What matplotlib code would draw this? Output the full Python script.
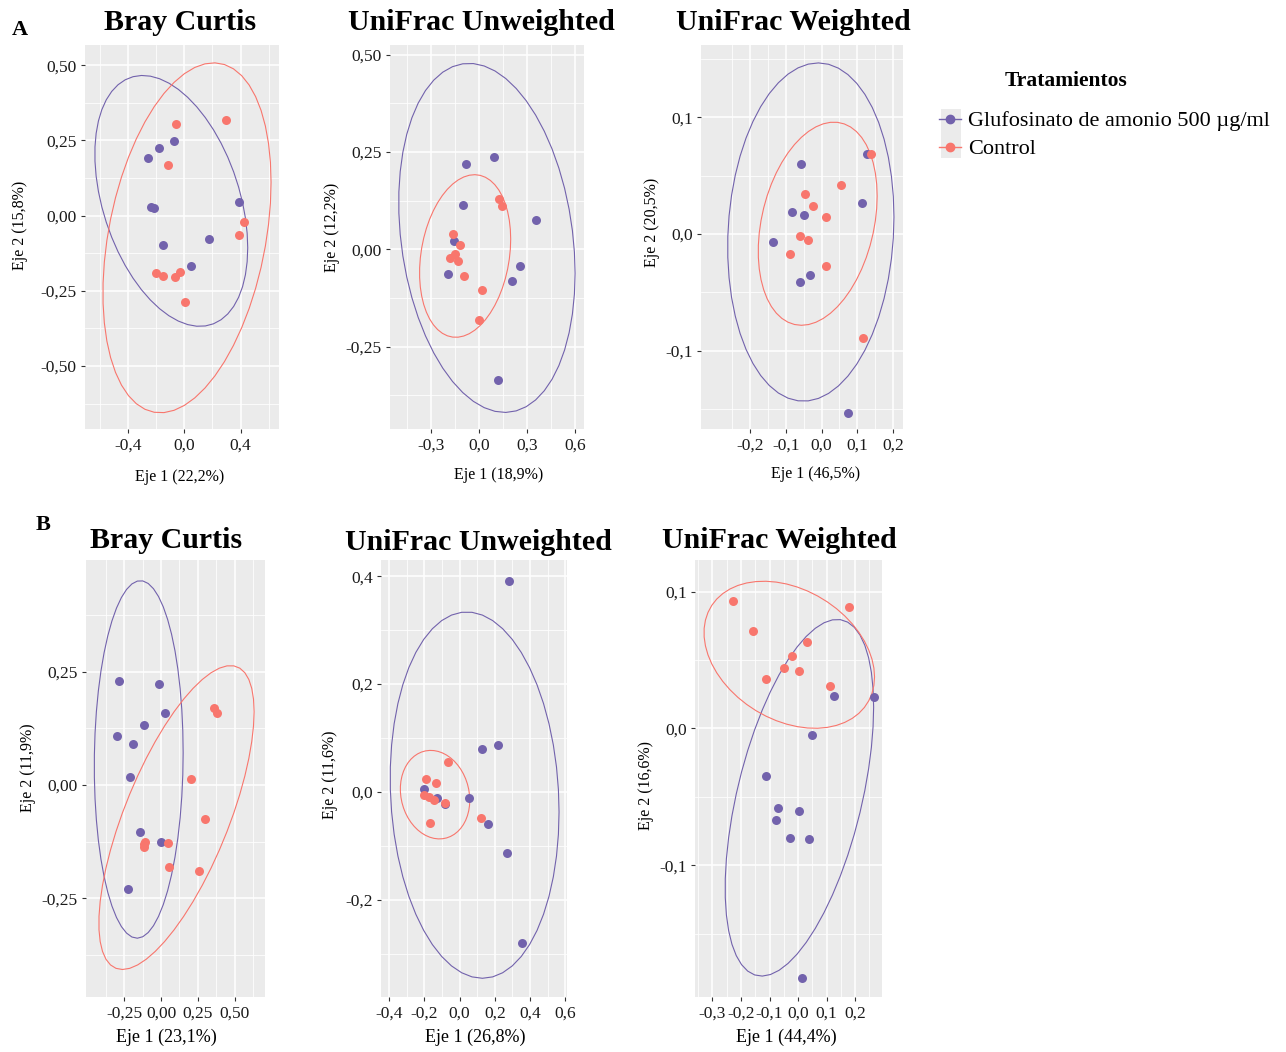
import numpy as np
import matplotlib
matplotlib.use("Agg")
import matplotlib.pyplot as plt
from matplotlib.lines import Line2D
from matplotlib.patches import Polygon, Rectangle

plt.rcParams['font.family'] = ['Liberation Serif', 'DejaVu Serif']

# Colours of the two treatments.
GLU_COLOR = "#7262AC"
CTL_COLOR = "#F8766D"

# ---------------- Data (PCoA coordinates) ----------------
# A - Bray Curtis
a1_glu_x = [-0.256, -0.182, -0.075, -0.237, -0.216, -0.153, 0.175, 0.050, 0.386]
a1_glu_y = [0.191, 0.226, 0.249, 0.030, 0.026, -0.098, -0.077, -0.167, 0.045]
a1_ctl_x = [-0.057, 0.298, -0.116, 0.422, 0.386, -0.201, -0.153, -0.068, -0.030, 0.007]
a1_ctl_y = [0.305, 0.318, 0.167, -0.020, -0.064, -0.189, -0.200, -0.205, -0.188, -0.286]
# A - UniFrac Unweighted
a2_glu_x = [-0.081, 0.094, -0.098, 0.358, -0.154, -0.190, 0.260, 0.208, 0.121]
a2_glu_y = [0.220, 0.236, 0.114, 0.075, 0.021, -0.064, -0.043, -0.082, -0.335]
a2_ctl_x = [0.127, 0.146, -0.163, -0.121, -0.148, -0.179, -0.131, -0.094, 0.017, -0.002]
a2_ctl_y = [0.128, 0.110, 0.038, 0.010, -0.013, -0.022, -0.029, -0.069, -0.106, -0.181]
# A - UniFrac Weighted
a3_glu_x = [-0.057, 0.127, 0.114, -0.083, -0.049, -0.135, -0.032, -0.060, 0.074]
a3_glu_y = [0.060, 0.069, 0.027, 0.019, 0.016, -0.007, -0.035, -0.041, -0.153]
a3_ctl_x = [0.138, 0.053, -0.047, -0.025, 0.012, -0.060, -0.038, -0.090, 0.012, 0.115]
a3_ctl_y = [0.069, 0.042, 0.034, 0.024, 0.015, -0.002, -0.005, -0.017, -0.027, -0.089]
# B - Bray Curtis
b1_glu_x = [-0.282, -0.016, 0.025, -0.115, -0.297, -0.191, -0.209, -0.142, -0.002, -0.225]
b1_glu_y = [0.229, 0.222, 0.158, 0.133, 0.108, 0.090, 0.018, -0.105, -0.125, -0.230]
b1_ctl_x = [0.358, 0.380, 0.203, 0.297, -0.106, -0.112, -0.115, 0.050, 0.054, 0.259]
b1_ctl_y = [0.170, 0.158, 0.013, -0.075, -0.126, -0.131, -0.137, -0.129, -0.182, -0.191]
# B - UniFrac Unweighted
b2_glu_x = [0.281, 0.216, 0.127, -0.204, -0.129, 0.055, -0.083, 0.163, 0.269, 0.352]
b2_glu_y = [0.391, 0.087, 0.079, 0.005, -0.011, -0.011, -0.023, -0.060, -0.114, -0.280]
b2_ctl_x = [-0.066, -0.193, -0.132, -0.204, -0.174, -0.144, -0.083, -0.170, 0.121]
b2_ctl_y = [0.055, 0.025, 0.016, -0.005, -0.010, -0.015, -0.021, -0.057, -0.048]
# B - UniFrac Weighted
b3_glu_x = [0.126, 0.267, 0.049, -0.113, -0.069, 0.002, -0.078, -0.027, 0.039, 0.015]
b3_glu_y = [0.024, 0.023, -0.005, -0.035, -0.058, -0.060, -0.067, -0.080, -0.081, -0.182]
b3_ctl_x = [-0.228, 0.179, -0.159, 0.032, -0.020, -0.051, 0.004, -0.113, 0.113]
b3_ctl_y = [0.093, 0.089, 0.071, 0.063, 0.053, 0.044, 0.042, 0.036, 0.031]

titles = ["Bray Curtis", "UniFrac Unweighted", "UniFrac Weighted"]
a_xlabels = ["Eje 1 (22,2%)", "Eje 1 (18,9%)", "Eje 1 (46,5%)"]
a_ylabels = ["Eje 2 (15,8%)", "Eje 2 (12,2%)", "Eje 2 (20,5%)"]
b_xlabels = ["Eje 1 (23,1%)", "Eje 1 (26,8%)", "Eje 1 (44,4%)"]
b_ylabels = ["Eje 2 (11,9%)", "Eje 2 (11,6%)", "Eje 2 (16,6%)"]
legend_labels = ["Glufosinato de amonio 500 \u00b5g/ml", "Control"]

# Tick values and labels for each panel.
a1_xticks = [-0.4, 0.0, 0.4]
a1_xticklabels = ["-0,4", "0,0", "0,4"]
a1_yticks = [-0.5, -0.25, 0.0, 0.25, 0.5]
a1_yticklabels = ["-0,50", "-0,25", "0,00", "0,25", "0,50"]
a2_xticks = [-0.3, 0.0, 0.3, 0.6]
a2_xticklabels = ["-0,3", "0,0", "0,3", "0,6"]
a2_yticks = [-0.25, 0.0, 0.25, 0.5]
a2_yticklabels = ["-0,25", "0,00", "0,25", "0,50"]
a3_xticks = [-0.2, -0.1, 0.0, 0.1, 0.2]
a3_xticklabels = ["-0,2", "-0,1", "0,0", "0,1", "0,2"]
a3_yticks = [-0.1, 0.0, 0.1]
a3_yticklabels = ["-0,1", "0,0", "0,1"]
b1_xticks = [-0.25, 0.0, 0.25, 0.5]
b1_xticklabels = ["-0,25", "0,00", "0,25", "0,50"]
b1_yticks = [-0.25, 0.0, 0.25]
b1_yticklabels = ["-0,25", "0,00", "0,25"]
b2_xticks = [-0.4, -0.2, 0.0, 0.2, 0.4, 0.6]
b2_xticklabels = ["-0,4", "-0,2", "0,0", "0,2", "0,4", "0,6"]
b2_yticks = [-0.2, 0.0, 0.2, 0.4]
b2_yticklabels = ["-0,2", "0,0", "0,2", "0,4"]
b3_xticks = [-0.3, -0.2, -0.1, 0.0, 0.1, 0.2]
b3_xticklabels = ["-0,3", "-0,2", "-0,1", "0,0", "0,1", "0,2"]
b3_yticks = [-0.1, 0.0, 0.1]
b3_yticklabels = ["-0,1", "0,0", "0,1"]

W, H = 1286, 1052


def cov_trob(x, nu=5, maxit=25, tol=0.01):
    """ Robust t covariance (as MASS::cov.trob). """
    n, p = x.shape
    loc = x.mean(axis=0)
    wt = np.ones(n)
    w = np.sqrt(wt)
    for it in range(maxit):
        w0 = w
        X = x - loc
        u, d, vt = np.linalg.svd(np.sqrt(w / w.sum())[:, None] * X, full_matrices=False)
        wX = X @ vt.T @ np.diag(1.0 / d)
        Q = (wX ** 2).sum(axis=1)
        w = (wt * (nu + p)) / (nu + Q)
        loc = (w[:, None] * x).sum(axis=0) / w.sum()
        if np.all(np.abs(w - w0) < tol):
            break
    sw = np.sqrt(w)[:, None] * X
    cov = sw.T @ sw / wt.sum()
    return cov, loc


def t_ellipse(xs, ys, level=0.95, segments=51):
    """ Ellipse like ggplot2 stat_ellipse(type='t'). """
    data = np.column_stack([xs, ys])
    cov, center = cov_trob(data)
    dfn = 2
    dfd = len(xs) - 1
    qf = dfd / 2.0 * ((1 - level) ** (-2.0 / dfd) - 1)
    radius = np.sqrt(dfn * qf)
    chol = np.linalg.cholesky(cov).T
    angles = np.arange(segments) * 2 * np.pi / segments
    unit = np.column_stack([np.cos(angles), np.sin(angles)])
    return center + radius * (unit @ chol)


def minor_ticks(major, lim):
    step = major[1] - major[0]
    vals = [m + step / 2 for m in major] + [major[0] - step / 2]
    return [v for v in vals if lim[0] <= v <= lim[1]]


def draw_panel(fig, box, xlim, ylim, xticks, xticklabels, yticks, yticklabels,
               glu_x, glu_y, ctl_x, ctl_y):
    l, t, r, b = box
    ax = fig.add_axes([l / W, 1 - b / H, (r - l) / W, (b - t) / H])
    ax.set_facecolor("#EBEBEB")
    for sp in ax.spines.values():
        sp.set_visible(False)
    ax.set_xlim(xlim)
    ax.set_ylim(ylim)
    ax.set_xticks(xticks)
    ax.set_xticklabels(xticklabels)
    ax.set_yticks(yticks)
    ax.set_yticklabels(yticklabels)
    ax.set_xticks(minor_ticks(xticks, xlim), minor=True)
    ax.set_yticks(minor_ticks(yticks, ylim), minor=True)
    ax.grid(which='major', color='white', linewidth=1.1)
    ax.grid(which='minor', color='white', linewidth=0.55)
    ax.set_axisbelow(True)
    ax.tick_params(which='major', length=3, width=0.8, color='#333333',
                   labelsize=12.5, labelcolor='#1a1a1a', pad=3)
    ax.tick_params(which='minor', length=0)
    # Ellipses.
    for xs, ys, col in [(glu_x, glu_y, GLU_COLOR), (ctl_x, ctl_y, CTL_COLOR)]:
        ax.add_patch(Polygon(t_ellipse(xs, ys), closed=True, fill=False,
                             edgecolor=col, linewidth=0.8, joinstyle='round'))
    # Points.
    ax.scatter(glu_x, glu_y, s=42, color=GLU_COLOR, linewidths=0, zorder=3)
    ax.scatter(ctl_x, ctl_y, s=42, color=CTL_COLOR, linewidths=0, zorder=3)
    return ax


fig = plt.figure(figsize=(W / 100, H / 100), dpi=100)

panels = [
    ((85, 45, 279, 429), (-0.705, 0.673), (-0.709, 0.567), a1_xticks, a1_xticklabels,
     a1_yticks, a1_yticklabels, a1_glu_x, a1_glu_y, a1_ctl_x, a1_ctl_y),
    ((390, 45, 584, 429), (-0.556, 0.658), (-0.462, 0.525), a2_xticks, a2_xticklabels,
     a2_yticks, a2_yticklabels, a2_glu_x, a2_glu_y, a2_ctl_x, a2_ctl_y),
    ((701, 45, 903, 429), (-0.338, 0.228), (-0.167, 0.162), a3_xticks, a3_xticklabels,
     a3_yticks, a3_yticklabels, a3_glu_x, a3_glu_y, a3_ctl_x, a3_ctl_y),
    ((86, 560, 265, 997), (-0.507, 0.703), (-0.468, 0.496), b1_xticks, b1_xticklabels,
     b1_yticks, b1_yticklabels, b1_glu_x, b1_glu_y, b1_ctl_x, b1_ctl_y),
    ((381, 560, 567, 997), (-0.447, 0.610), (-0.380, 0.430), b2_xticks, b2_xticklabels,
     b2_yticks, b2_yticklabels, b2_glu_x, b2_glu_y, b2_ctl_x, b2_ctl_y),
    ((695, 560, 882, 997), (-0.361, 0.294), (-0.196, 0.123), b3_xticks, b3_xticklabels,
     b3_yticks, b3_yticklabels, b3_glu_x, b3_glu_y, b3_ctl_x, b3_ctl_y),
]
for p in panels:
    draw_panel(fig, *p)


def ftext(x, y, s, **kw):
    fig.text(x / W, 1 - y / H, s, **kw)


# Titles.
for (x, y), s in zip([(180, 23), (481, 23), (793, 22)], titles):
    ftext(x, y, s, fontsize=21.5, fontweight='bold', ha='center', va='center')
for (x, y), s in zip([(166, 541), (478, 542), (779, 540)], titles):
    ftext(x, y, s, fontsize=21.5, fontweight='bold', ha='center', va='center')
ftext(20, 30, "A", fontsize=16, fontweight='bold', ha='center', va='center')
ftext(43, 525, "B", fontsize=16, fontweight='bold', ha='center', va='center')

# Axis titles.
for (x, y), s in zip([(180, 477), (499, 475), (816, 474)], a_xlabels):
    ftext(x, y, s, fontsize=11.5, ha='center', va='center')
for (x, y), s in zip([(20, 225), (332, 227), (652, 222)], a_ylabels):
    ftext(x, y, s, fontsize=11.5, ha='center', va='center', rotation=90)
for (x, y), s in zip([(166, 1037), (475, 1037), (786, 1037)], b_xlabels):
    ftext(x, y, s, fontsize=13, ha='center', va='center')
for (x, y), s in zip([(28, 768), (330, 775), (646, 785)], b_ylabels):
    ftext(x, y, s, fontsize=11.5, ha='center', va='center', rotation=90)

# Legend.
fig.patches.append(Rectangle((941 / W, 1 - 158 / H), 20 / W, 49 / H,
                             transform=fig.transFigure, facecolor="#EBEBEB",
                             edgecolor='none', zorder=0))
handles = [Line2D([], [], color=GLU_COLOR, marker='o', markersize=6, linewidth=1),
           Line2D([], [], color=CTL_COLOR, marker='o', markersize=6, linewidth=1)]
ftext(1066, 81, "Tratamientos", fontsize=15.5, fontweight='bold', ha='center', va='center')
leg = fig.legend(handles, legend_labels, loc='upper left',
                 bbox_to_anchor=(930 / W, 1 - 102 / H), frameon=False,
                 fontsize=16, handlelength=1.0, handletextpad=0.3,
                 labelspacing=0.33, borderaxespad=0)

fig.savefig("out.png", dpi=100)
